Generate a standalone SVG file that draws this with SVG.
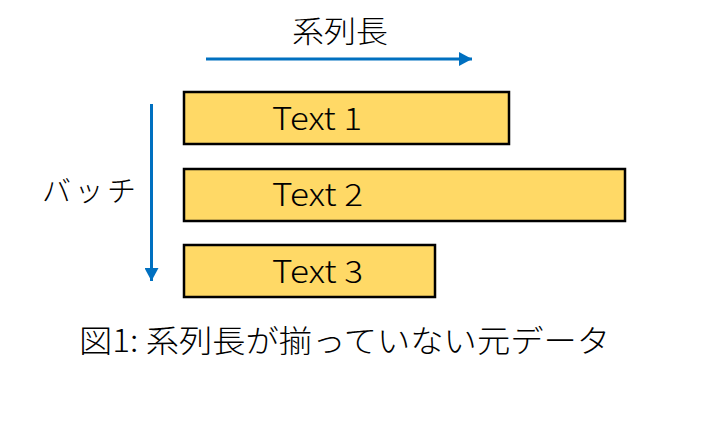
<svg xmlns="http://www.w3.org/2000/svg" width="703" height="432" viewBox="0 0 703 432">
<style>
.box{fill:#FFD966;stroke:#000;stroke-width:2.5}
.lbl{font-family:"Noto Sans CJK JP","Liberation Sans",sans-serif;font-weight:300;fill:#000}
.conn{stroke:#0070C0;stroke-width:3;fill:none}
</style>
<defs>
<marker id="ah" markerUnits="userSpaceOnUse" markerWidth="14" markerHeight="14" refX="13" refY="7" orient="auto">
<path d="M0,0 L13,7 L0,14 Z" fill="#0070C0"/>
</marker>
</defs>
<rect width="703" height="432" fill="#fff"/>
<g id="connectors">
<line class="conn" x1="206" y1="59" x2="472" y2="59" marker-end="url(#ah)"/>
<line class="conn" x1="151.5" y1="104" x2="151.5" y2="281" marker-end="url(#ah)"/>
</g>
<g id="label-seq">
<text class="lbl" x="292" y="42" font-size="30" textLength="96" lengthAdjust="spacingAndGlyphs">系列長</text>
</g>
<g id="label-batch">
<text class="lbl" x="42" y="202" font-size="29" textLength="94" lengthAdjust="spacing">バッチ</text>
</g>
<g id="text1">
<rect class="box" x="184" y="92" width="325" height="52"/>
<text class="lbl" x="272" y="130" font-size="31" textLength="90" lengthAdjust="spacingAndGlyphs">Text 1</text>
</g>
<g id="text2">
<rect class="box" x="184" y="169" width="441" height="52"/>
<text class="lbl" x="272" y="206" font-size="31" textLength="91" lengthAdjust="spacingAndGlyphs">Text 2</text>
</g>
<g id="text3">
<rect class="box" x="184" y="245" width="251" height="52"/>
<text class="lbl" x="272" y="283" font-size="31" textLength="91" lengthAdjust="spacingAndGlyphs">Text 3</text>
</g>
<g id="caption">
<text class="lbl" x="79" y="352" font-size="31" textLength="531" lengthAdjust="spacingAndGlyphs">図1: 系列長が揃っていない元データ</text>
</g>
</svg>
